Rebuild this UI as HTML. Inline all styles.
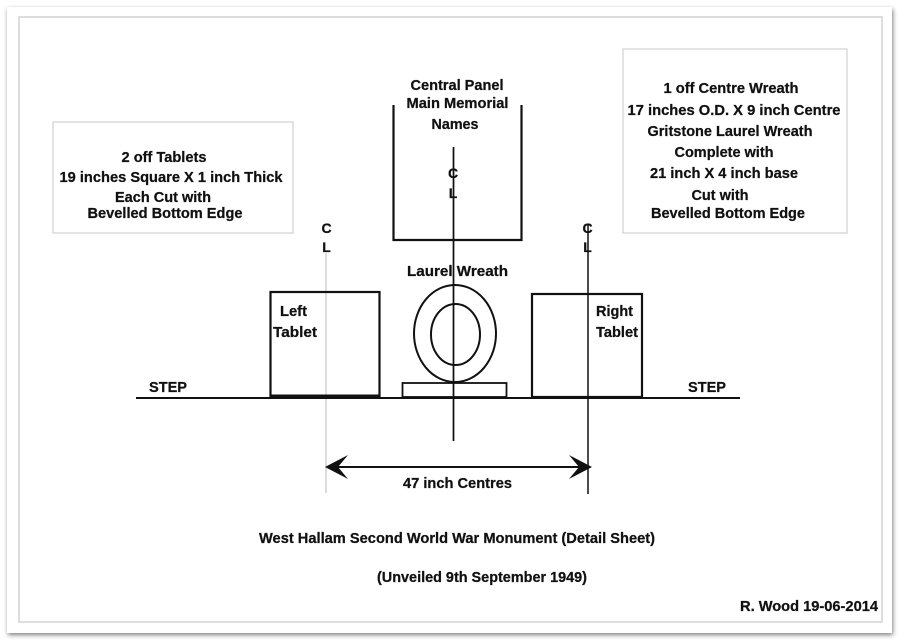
<!DOCTYPE html>
<html>
<head>
<meta charset="utf-8">
<style>
  html, body { margin:0; padding:0; background:#ffffff; }
  svg { display:block; }
  text { font-family: "Liberation Sans", Arial, sans-serif; font-weight: bold; fill:#111; stroke:#111; stroke-width:0.25; }
</style>
</head>
<body>
<svg width="900" height="643" viewBox="0 0 900 643" xmlns="http://www.w3.org/2000/svg">
  <defs>
    <filter id="sh" x="-5%" y="-5%" width="110%" height="110%">
      <feGaussianBlur in="SourceAlpha" stdDeviation="2.5"/>
      <feOffset dx="1" dy="2" result="b"/>
      <feComponentTransfer><feFuncA type="linear" slope="0.5"/></feComponentTransfer>
      <feMerge><feMergeNode/><feMergeNode in="SourceGraphic"/></feMerge>
    </filter>
  </defs>

  <rect x="0" y="0" width="900" height="643" fill="#ffffff"/>
  <!-- card -->
  <rect x="7" y="7" width="885" height="626" fill="#ffffff" filter="url(#sh)"/>
  <rect x="19" y="17" width="863" height="605" fill="none" stroke="#d2d2d2" stroke-width="1.5"/>

  <!-- Left note box -->
  <rect x="53" y="122" width="240" height="111" fill="none" stroke="#d0d0d0" stroke-width="1.2"/>
  <text x="164" y="162" font-size="14.5" text-anchor="middle" textLength="85" lengthAdjust="spacingAndGlyphs">2 off Tablets</text>
  <text x="171" y="182" font-size="14.5" text-anchor="middle" textLength="223" lengthAdjust="spacingAndGlyphs">19 inches Square X 1 inch Thick</text>
  <text x="163" y="202" font-size="14.5" text-anchor="middle" textLength="96" lengthAdjust="spacingAndGlyphs">Each Cut with</text>
  <text x="165" y="218" font-size="14.5" text-anchor="middle" textLength="155" lengthAdjust="spacingAndGlyphs">Bevelled Bottom Edge</text>

  <!-- Right note box -->
  <rect x="623" y="49" width="224" height="184" fill="none" stroke="#d0d0d0" stroke-width="1.2"/>
  <text x="731" y="93" font-size="14.5" text-anchor="middle" textLength="135" lengthAdjust="spacingAndGlyphs">1 off Centre Wreath</text>
  <text x="734" y="115" font-size="14.5" text-anchor="middle" textLength="213" lengthAdjust="spacingAndGlyphs">17 inches O.D. X 9 inch Centre</text>
  <text x="730" y="136" font-size="14.5" text-anchor="middle" textLength="165" lengthAdjust="spacingAndGlyphs">Gritstone Laurel Wreath</text>
  <text x="724" y="157" font-size="14.5" text-anchor="middle" textLength="99" lengthAdjust="spacingAndGlyphs">Complete with</text>
  <text x="724" y="178" font-size="14.5" text-anchor="middle" textLength="148" lengthAdjust="spacingAndGlyphs">21 inch X 4 inch base</text>
  <text x="720" y="200" font-size="14.5" text-anchor="middle" textLength="57" lengthAdjust="spacingAndGlyphs">Cut with</text>
  <text x="728" y="218" font-size="14.5" text-anchor="middle" textLength="154" lengthAdjust="spacingAndGlyphs">Bevelled Bottom Edge</text>

  <!-- Central panel -->
  <text x="457" y="90" font-size="14.5" text-anchor="middle" textLength="93" lengthAdjust="spacingAndGlyphs">Central Panel</text>
  <text x="457.5" y="108" font-size="14.5" text-anchor="middle" textLength="102" lengthAdjust="spacingAndGlyphs">Main Memorial</text>
  <text x="455" y="129" font-size="14.5" text-anchor="middle" textLength="47" lengthAdjust="spacingAndGlyphs">Names</text>
  <polyline points="393.5,105 393.5,240 521.5,240 521.5,105" fill="none" stroke="#111" stroke-width="2.2"/>

  <!-- Centre lines -->
  <line x1="453.5" y1="147" x2="453.5" y2="441" stroke="#111" stroke-width="1.5"/>
  <text x="453" y="178" font-size="14" text-anchor="middle">C</text>
  <text x="453" y="198" font-size="14" text-anchor="middle">L</text>

  <line x1="326" y1="253" x2="326" y2="493" stroke="#c8c8c8" stroke-width="1.3"/>
  <text x="326.5" y="233" font-size="14" text-anchor="middle">C</text>
  <text x="326.5" y="252" font-size="14" text-anchor="middle">L</text>

  <line x1="588" y1="225" x2="588" y2="494" stroke="#111" stroke-width="1.5"/>
  <text x="587.5" y="233" font-size="14" text-anchor="middle">C</text>
  <text x="587.5" y="252" font-size="14" text-anchor="middle">L</text>

  <!-- Step line -->
  <line x1="136" y1="398" x2="740" y2="398" stroke="#111" stroke-width="2"/>
  <text x="149" y="392" font-size="14.5" textLength="38" lengthAdjust="spacingAndGlyphs">STEP</text>
  <text x="688" y="392" font-size="14.5" textLength="38" lengthAdjust="spacingAndGlyphs">STEP</text>

  <!-- Left tablet -->
  <rect x="270.5" y="292" width="109" height="104" fill="none" stroke="#111" stroke-width="2.2"/>
  <line x1="271" y1="396" x2="379" y2="396" stroke="#111" stroke-width="3"/>
  <text x="280" y="316" font-size="14.5" textLength="27" lengthAdjust="spacingAndGlyphs">Left</text>
  <text x="273" y="337" font-size="14.5" textLength="44" lengthAdjust="spacingAndGlyphs">Tablet</text>

  <!-- Right tablet -->
  <rect x="532" y="294" width="110" height="103" fill="none" stroke="#111" stroke-width="2.2"/>
  <text x="596" y="316" font-size="14.5" textLength="37" lengthAdjust="spacingAndGlyphs">Right</text>
  <text x="596" y="337" font-size="14.5" textLength="42" lengthAdjust="spacingAndGlyphs">Tablet</text>

  <!-- Laurel wreath -->
  <text x="407" y="276" font-size="14.5" textLength="101" lengthAdjust="spacingAndGlyphs">Laurel  Wreath</text>
  <ellipse cx="455" cy="333.5" rx="41" ry="48.5" fill="none" stroke="#111" stroke-width="2"/>
  <ellipse cx="455.5" cy="334.5" rx="24.5" ry="30.5" fill="none" stroke="#111" stroke-width="2"/>
  <rect x="402.5" y="383" width="104" height="14" fill="none" stroke="#111" stroke-width="1.8"/>
  <line x1="453.5" y1="147" x2="453.5" y2="441" stroke="#111" stroke-width="1.5"/>

  <!-- Dimension arrow -->
  <line x1="335" y1="467" x2="583" y2="467" stroke="#111" stroke-width="2"/>
  <path d="M325,467 L348,455 L338,467 L348,479 Z" fill="#111"/>
  <path d="M592,467 L569,455 L579,467 L569,479 Z" fill="#111"/>
  <text x="457.5" y="488" font-size="14.5" text-anchor="middle" textLength="109" lengthAdjust="spacingAndGlyphs">47 inch Centres</text>

  <!-- Titles -->
  <text x="457" y="543" font-size="14.5" text-anchor="middle" textLength="396" lengthAdjust="spacingAndGlyphs">West Hallam Second World War Monument (Detail Sheet)</text>
  <text x="482" y="582" font-size="14.5" text-anchor="middle" textLength="210" lengthAdjust="spacingAndGlyphs">(Unveiled 9th September 1949)</text>
  <text x="878" y="611" font-size="14.5" text-anchor="end" textLength="138" lengthAdjust="spacingAndGlyphs">R. Wood 19-06-2014</text>
</svg>
</body>
</html>
